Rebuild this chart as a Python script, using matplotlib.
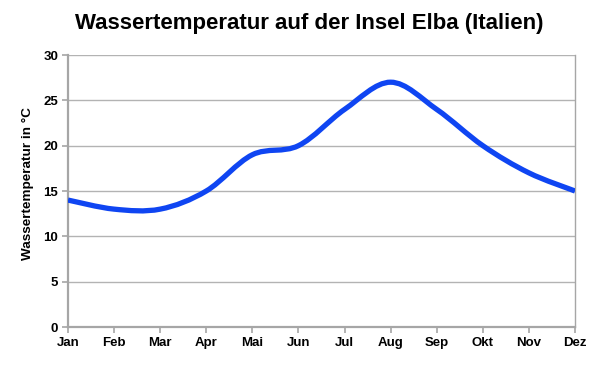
import matplotlib
matplotlib.use("Agg")
import matplotlib.pyplot as plt
from matplotlib.path import Path
from matplotlib.patches import PathPatch
import numpy as np

months = ["Jan", "Feb", "Mar", "Apr", "Mai", "Jun", "Jul", "Aug", "Sep", "Okt", "Nov", "Dez"]
temps = [14, 13, 13, 15, 19, 20, 24, 27, 24, 20, 17, 15]
yticks = [0, 5, 10, 15, 20, 25, 30]

plt.rcParams['font.family'] = ['Liberation Sans', 'DejaVu Sans']

fig = plt.figure(figsize=(5.98, 3.74), dpi=100)
ax = fig.add_axes([68/598, 1-327/374, (575-68)/598, (327-55)/374])

x = np.arange(len(months))
y = np.array(temps, dtype=float)

# Smooth curve via Catmull-Rom -> cubic Bezier segments
verts = [(x[0], y[0])]
codes = [Path.MOVETO]
n = len(x)
t = 1/6
for i in range(n-1):
    p0 = (x[i-1], y[i-1]) if i > 0 else (x[i], y[i])
    p1 = (x[i], y[i])
    p2 = (x[i+1], y[i+1])
    p3 = (x[i+2], y[i+2]) if i+2 < n else (x[i+1], y[i+1])
    c1 = (p1[0] + (p2[0]-p0[0])*t, p1[1] + (p2[1]-p0[1])*t)
    c2 = (p2[0] - (p3[0]-p1[0])*t, p2[1] - (p3[1]-p1[1])*t)
    verts += [c1, c2, p2]
    codes += [Path.CURVE4]*3
patch = PathPatch(Path(verts, codes), facecolor='none', edgecolor='#0f45f2',
                  linewidth=3.8, capstyle='butt', joinstyle='round', zorder=3)
ax.add_patch(patch)

ax.set_xlim(0, n-1)
ax.set_ylim(0, 30)
ax.set_xticks(x)
ax.set_xticklabels(months)
ax.set_yticks(yticks)
ax.grid(axis='y', color='#b3b3b3', linewidth=1.0)
ax.set_axisbelow(True)
for s in ['left', 'bottom', 'right']:
    ax.spines[s].set_color('#a6a6a6')
    ax.spines[s].set_linewidth(1.6)
ax.spines['top'].set_visible(False)
ax.spines['right'].set_linewidth(1.0)
ax.tick_params(axis='both', colors='#a6a6a6', length=4, width=1.2, labelcolor='black',
               labelsize=9.5)
for lab in ax.get_xticklabels() + ax.get_yticklabels():
    lab.set_fontweight('bold')
ax.tick_params(axis='x', pad=3)
ax.tick_params(axis='y', pad=3)

ax.set_ylabel("Wassertemperatur in °C", fontsize=9.7, fontweight='bold')
ax.yaxis.set_label_coords(-0.067, 0.526)
fig.text(309/598, 1-23/374, "Wassertemperatur auf der Insel Elba (Italien)",
         ha='center', va='center', fontsize=16, fontweight='bold')

fig.savefig("out.png", dpi=100)
